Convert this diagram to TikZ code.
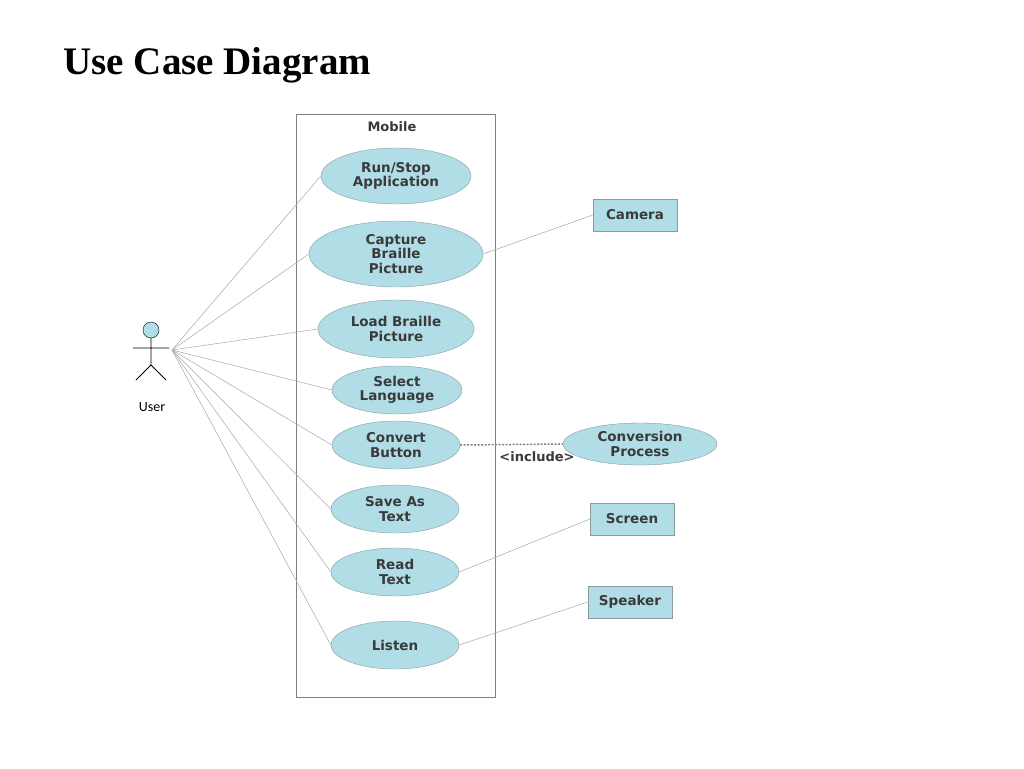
\documentclass[tikz,border=0pt]{standalone}
\usepackage{fontspec}
\setmainfont{Liberation Serif}
\newfontfamily\ucfont{DejaVu Sans}
\newfontfamily\lblfont{Carlito}
\usetikzlibrary{shapes.geometric}
\definecolor{ucfill}{HTML}{B0DDE6}
\definecolor{ucline}{HTML}{8A9BA0}
\definecolor{uctext}{HTML}{3A3A3A}
\newcommand{\ucsize}{\fontsize{13.5}{14.5}\selectfont}

\begin{document}
\begin{tikzpicture}[x=1pt,y=-1pt,
  uc/.style={draw=ucline, fill=ucfill, ellipse, inner sep=0pt, align=center,
    text=uctext, font=\ucfont\ucsize\bfseries},
  box/.style={draw=ucline, fill=ucfill, minimum width=84pt, minimum height=32pt,
    text=uctext, font=\ucfont\ucsize\bfseries},
  link/.style={draw=gray!70, line width=.5pt}]
\useasboundingbox (0,0) rectangle (1024,768);
    % title and system boundary
\node (title) at (60,65) [anchor=west, font=\fontsize{39}{42}\selectfont\bfseries] {Use Case Diagram};
\draw[draw=gray] (296,114) rectangle (495,697);
\node (mobile) at (392,127) [text=uctext, font=\ucfont\fontsize{13}{14}\selectfont\bfseries] {Mobile};
    % actor
\node (head) at (151,330) [draw, circle, fill=ucfill, minimum size=16pt, inner sep=0pt] {};
\coordinate (neck) at (151,338);
\coordinate (hip) at (151,365);
\coordinate (user) at (172,350);
\draw[line width=.8pt] (neck) -- (hip) (133,348) -- (169,348)
  (136,380) -- (hip) -- (166,380);
\node (ulabel) at (152,407) [font=\lblfont\fontsize{14}{16}\selectfont] {User};
    % use cases
\node (run) at (396,176) [uc, minimum width=150pt, minimum height=56pt] {Run/Stop\\Application};
\node (capture) at (396,254) [uc, minimum width=174pt, minimum height=66pt] {Capture\\Braille\\Picture};
\node (load) at (396,329) [uc, minimum width=156pt, minimum height=58pt] {Load Braille\\Picture};
\node (select) at (397,390) [uc, minimum width=130pt, minimum height=48pt] {Select\\Language};
\node (convert) at (396,445) [uc, minimum width=128pt, minimum height=48pt] {Convert\\Button};
\node (save) at (395,509) [uc, minimum width=128pt, minimum height=48pt] {Save As\\Text};
\node (read) at (395,572) [uc, minimum width=128pt, minimum height=48pt] {Read\\Text};
\node (listen) at (395,645) [uc, minimum width=128pt, minimum height=48pt] {Listen};
\node (process) at (640,444) [uc, minimum width=154pt, minimum height=42pt] {Conversion\\Process};
    % devices
\node (camera) at (635,215) [box] {Camera};
\node (screen) at (632,519) [box] {Screen};
\node (speaker) at (630,602) [box] {Speaker};
    % connectors
\foreach \u in {run,capture,load,select,convert,save,read,listen}
  \draw[link] (user) -- (\u.west);
\draw[link] (capture.east) -- (camera.west);
\draw[link] (read.east) -- (screen.west);
\draw[link] (listen.east) -- (speaker.west);
\draw[draw=gray, line width=1.5pt, dash pattern=on 2pt off 1.5pt] (convert.east) -- (process.west);
\node (incl) at (537,457) [text=uctext, font=\ucfont\fontsize{13}{14}\selectfont\bfseries] {<include>};
  \end{tikzpicture}
\end{document}
